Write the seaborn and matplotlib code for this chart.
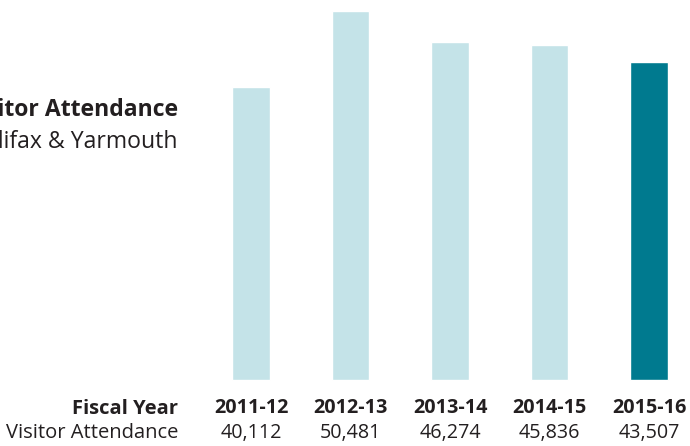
import pandas as pd
import seaborn as sns
import matplotlib.pyplot as plt

years = ["2011-12", "2012-13", "2013-14", "2014-15", "2015-16"]
attendance = [40112, 50481, 46274, 45836, 43507]
bar_colors = ["#C4E3E8", "#C4E3E8", "#C4E3E8", "#C4E3E8", "#007A8F"]

df = pd.DataFrame({"year": years, "visitors": attendance})

sns.set_theme(style="white")
plt.rcParams["font.family"] = ["Open Sans", "DejaVu Sans"]

fig = plt.figure(figsize=(6.9, 4.46), dpi=100)
ax = fig.add_axes([0, 0, 1, 1])

sns.barplot(data=df, x="year", y="visitors", hue="year", palette=bar_colors,
            width=0.38, legend=False, ax=ax, saturation=1)

# map: category 0 at 251px, step 99.5px; baseline at 380px, 136.8 units per px
ax.set_xlim(-251 / 99.5, (690 - 251) / 99.5)
ax.set_ylim(-66 * 136.8, 380 * 136.8)
ax.axis("off")

txt = "#231F20"
# figure-pixel helper (y from top)
def px(x, y):
    return x / 690, 1 - y / 446

# title runs off the left edge, like the reference
fig.text(*px(178, 110), "Visitor Attendance", ha="right", va="center",
         fontsize=16.6, fontweight="bold", color=txt)
fig.text(*px(178, 142), "Halifax & Yarmouth", ha="right", va="center",
         fontsize=16.6, color=txt)

fig.text(*px(178, 409), "Fiscal Year", ha="right", va="center",
         fontsize=14.5, fontweight="bold", color=txt)
fig.text(*px(178, 433), "Visitor Attendance", ha="right", va="center",
         fontsize=14.5, color=txt)

for i, (yr, v) in enumerate(zip(years, attendance)):
    ax.text(i, -28 * 136.8, yr, ha="center", va="center",
            fontsize=14.2, fontweight="bold", color=txt)
    ax.text(i, -53 * 136.8, f"{v:,}", ha="center", va="center",
            fontsize=14.2, color=txt)

fig.savefig("out.png", dpi=100)
